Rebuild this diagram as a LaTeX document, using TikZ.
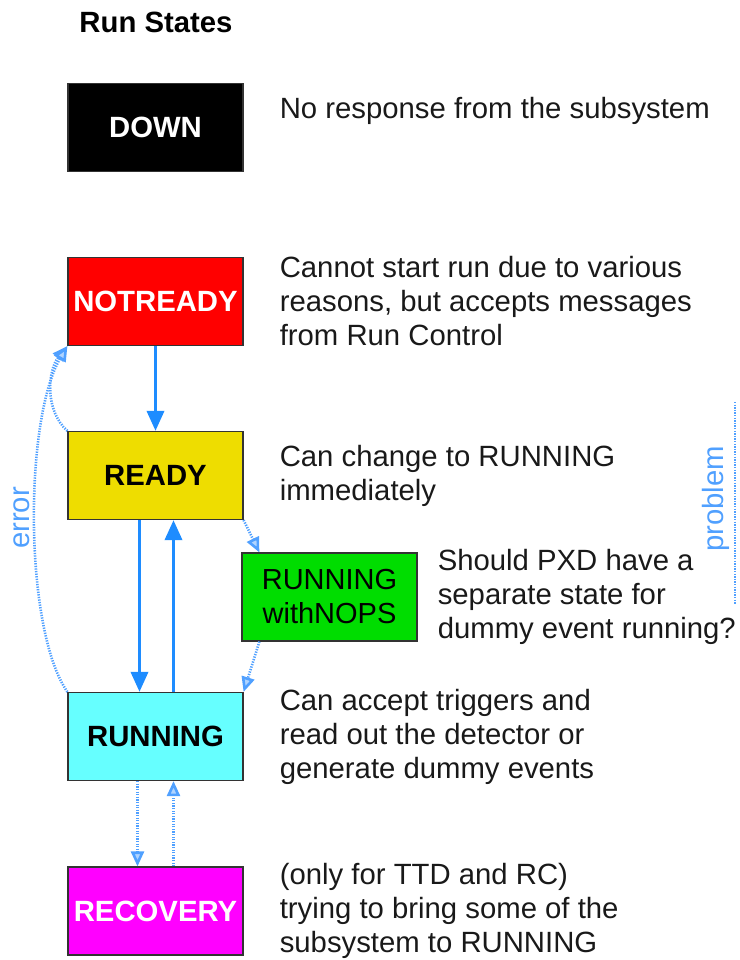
\documentclass[tikz,border=0pt]{standalone}
\usepackage{fontspec}
\setmainfont{Liberation Sans}
\usepackage{xcolor}
\usetikzlibrary{arrows.meta,positioning}

\definecolor{flowblue}{RGB}{30,140,255}
\definecolor{errblue}{RGB}{80,160,255}
\definecolor{readyyel}{RGB}{238,221,0}
\definecolor{nopsgreen}{RGB}{0,221,0}
\definecolor{runcyan}{RGB}{102,255,255}
\definecolor{recmag}{RGB}{255,0,255}
\definecolor{nrred}{RGB}{255,0,0}

\tikzset{
  statebox/.style={draw=black!80, line width=1.2pt, minimum width=175pt, minimum height=88pt,
    inner sep=0pt, font=\fontsize{29.3}{34}\selectfont\bfseries},
  desc/.style={align=left, inner sep=0pt, font=\fontsize{29.3}{34}\selectfont, text=black!90},
  flow/.style={flowblue, line width=3.5pt, -{Triangle[length=20pt,width=17pt]}},
  errflow/.style={errblue, line width=2.6pt, dash pattern=on 1.3pt off 1.3pt,
    -{Triangle[length=15pt,width=13pt,fill=errblue!45]}},
  errlabel/.style={errblue, rotate=90, font=\fontsize{29.3}{34}\selectfont}
}

\begin{document}
\begin{tikzpicture}[x=1pt,y=-1pt]
    \useasboundingbox (0,0) rectangle (739,960);

    % title
    \node[font=\fontsize{29.3}{34}\selectfont\bfseries] (title) at (156,22) {Run States};

    % states
    \node[statebox, fill=black, text=white] (down) at (155.5,127.5) {DOWN};
    \node[statebox, fill=nrred, text=white] (nr) at (155.5,301.5) {NOTREADY};
    \node[statebox, fill=readyyel] (rdy) at (155.5,475.5) {READY};
    \node[statebox, fill=nopsgreen, font=\fontsize{29}{34}\selectfont, align=center] (nops) at (329.5,597) {RUNNING\\withNOPS};
    \node[statebox, fill=runcyan] (run) at (155.5,736.5) {RUNNING};
    \node[statebox, fill=recmag, text=white] (rec) at (155.5,911) {RECOVERY};

    % descriptions
    \node[desc, right=36pt of down, yshift=17pt] (ddown) {No response from the subsystem};
    \node[desc, right=36pt of nr] (dnr) {Cannot start run due to various\\reasons, but accepts messages\\from Run Control};
    \node[desc, right=36pt of rdy] (drdy) {Can change to RUNNING\\immediately};
    \node[desc, right=20pt of nops] (dnops) {Should PXD have a\\separate state for\\dummy event running?};
    \node[desc, right=36pt of run] (drun) {Can accept triggers and\\read out the detector or\\generate dummy events};
    \node[desc, right=36pt of rec] (drec) {(only for TTD and RC)\\trying to bring some of the\\subsystem to RUNNING};

    % normal transitions
    \draw[flow] (nr.south) -- (rdy.north);
    \draw[flow] ([xshift=-16pt]rdy.south) -- ([xshift=-16pt]run.north);
    \draw[flow] ([xshift=18pt]run.north) -- ([xshift=18pt]rdy.south);

    % error / side transitions
    \draw[errflow] (rdy.north west) .. controls (44,410) and (48,370) .. (nr.south west);
    \draw[errflow] (run.north west) .. controls (24,630) and (24,420) .. (nr.south west);
    \draw[errflow] (rdy.south east) -- ([xshift=18pt]nops.north west);
    \draw[errflow] ([xshift=18pt]nops.south west) -- (run.north east);
    \draw[errflow] ([xshift=-18pt]run.south) -- ([xshift=-18pt]rec.north);
    \draw[errflow] ([xshift=18pt]rec.north) -- ([xshift=18pt]run.south);

    \node[errlabel] (err) at (22,518) {error};
    \coordinate (ptop) at (735,402);
    \coordinate (pbot) at (735,604);
    \draw[errblue, line width=2.6pt, dash pattern=on 1.3pt off 1.3pt] (ptop) -- (pbot);
    \node[errlabel] (prob) at (716,499) {problem};
\end{tikzpicture}
\end{document}
